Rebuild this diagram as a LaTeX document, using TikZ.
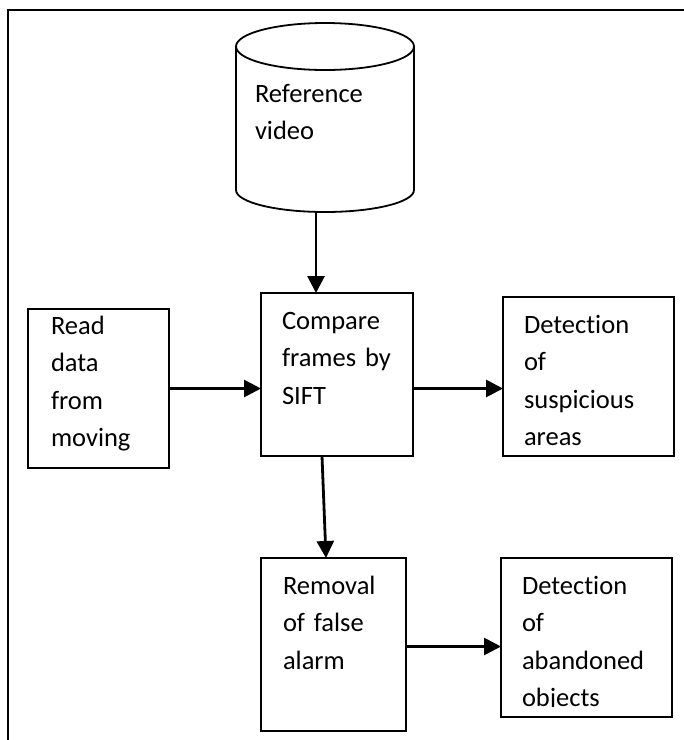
\documentclass[tikz,border=0pt]{standalone}
\usepackage{fontspec}
\setmainfont[Ligatures=CommonOff]{Carlito}
\usetikzlibrary{arrows.meta}
\begin{document}
\begin{tikzpicture}[x=1pt,y=-1pt,
  box/.style={draw=black,line width=1.8pt,rectangle,anchor=north west,inner sep=0pt,outer sep=0pt,fill=white},
  txt/.style={anchor=base west,inner sep=0pt,outer sep=0pt,align=left,text width=150pt,
    font=\fontsize{26.5}{37.6}\selectfont},
  arr/.style={line width=2.8pt,-{Triangle[length=17pt,width=17pt]}}]
\useasboundingbox (0,0) rectangle (684,740);
\fill[white] (0,0) rectangle (684,740);
% frame
\draw[line width=2.5pt] (8,740) -- (8,10) -- (684,10);
% cylinder
\draw[line width=1.8pt,fill=white] (236,46.5) -- (236,190)
  arc[start angle=180,end angle=0,x radius=89,y radius=22] -- (414,46.5);
\draw[line width=1.8pt,fill=white] (325,46.5) ellipse[x radius=89,y radius=23.5];
\coordinate (cylb) at (316,212);
\node[txt] (cylT) at (255,102) {Reference\\video};
% boxes
\node[box,minimum width=141pt,minimum height=159pt] (read) at (28,309) {};
\node[box,minimum width=152pt,minimum height=163pt] (cmp) at (261,293) {};
\node[box,minimum width=171pt,minimum height=159pt] (sus) at (503,297) {};
\node[box,minimum width=145pt,minimum height=173pt] (rem) at (261,558) {};
\node[box,minimum width=171pt,minimum height=159pt] (aba) at (501,558) {};
% texts
\node[txt] (readT) at (51,334) {Read\\data\\from\\moving};
\node[txt] (cmpT) at (282,329) {Compare\\frames by\\SIFT};
\node[txt] (susT) at (524,333) {Detection\\of\\suspicious\\areas};
\node[txt] (remT) at (283,594) {Removal\\of false\\alarm};
\begin{scope}
\clip (501,558) rectangle (672,706.5);
\node[txt] (abaT) at (522,594) {Detection\\of\\abandoned\\objects};
\end{scope}
% connectors
\draw[arr] (cylb) -- (cylb |- cmp.north);
\draw[arr] (read.east) -- (read.east -| cmp.west);
\draw[arr] (cmp.east |- read.east) -- (sus.west |- read.east);
\draw[arr] ([xshift=-15pt]cmp.south) -- ([xshift=-7.5pt]rem.north);
\draw[arr] ([yshift=-2pt]rem.east) -- ([yshift=-2pt]rem.east -| aba.west);
\end{tikzpicture}
\end{document}
